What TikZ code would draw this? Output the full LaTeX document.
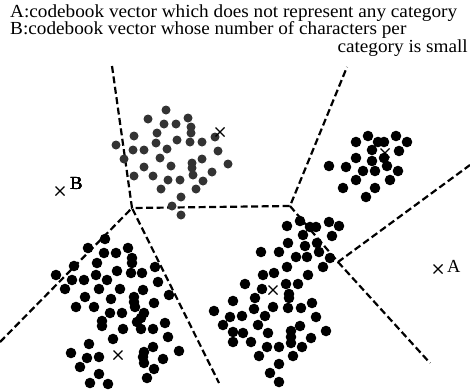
\documentclass[tikz,border=0pt]{standalone}
\usepackage{fontspec}
\setmainfont{Liberation Serif}
\usetikzlibrary{positioning}
\tikzset{
  border/.style={line width=2.2pt,dash pattern=on 7pt off 3.5pt},
  blob/.style={fill=black},
  greyblob/.style={fill=black!80},
  cross/.style={line width=1.2pt},
  caption/.style={inner sep=0pt,font=\fontsize{18.4}{17}\selectfont},
  legend/.style={caption,xscale=1.045}
}
\newcommand{\xmark}[1]{\draw[cross] ($(#1)+(-4.5,-4.5)$) -- ($(#1)+(4.5,4.5)$) ($(#1)+(-4.5,4.5)$) -- ($(#1)+(4.5,-4.5)$);}
\usetikzlibrary{calc}
\begin{document}
\begin{tikzpicture}[x=1pt,y=-1pt]
\useasboundingbox (0,0) rectangle (470,391);
% legend
\node[legend,anchor=base west] (la) at (10,17) {A:codebook vector which does not represent any category};
\node[legend,anchor=base west] (lb) at (10,34.5) {B:codebook vector whose number of characters per};
\node[legend,anchor=base east] (lc) at (468,52) {category is small};
% cell borders
\coordinate (v1) at (132,208);
\coordinate (v2) at (290,206);
\coordinate (v3) at (338,262);
\coordinate (t1) at (112,66);
\coordinate (t2) at (347,67);
\coordinate (e1) at (0,342);
\coordinate (e2) at (219,383);
\coordinate (e3) at (470,165);
\coordinate (e4) at (430,363);
\draw[border] (t1) -- (v1) -- (v2) -- (t2);
\draw[border] (e1) -- (v1) -- (e2);
\draw[border] (v2) -- (v3) -- (e3);
\draw[border] (v3) -- (e4);
% grey cluster
\foreach \x/\y in {166/110,148/119,164/124,176/124,188/118,191/127,191/133,134/136,157/133,
  116/145,133/150,144/150,156/143,177/140,190/142,202/142,215/137,167/149,160/158,124/159,
  218/151,228/164,144/167,171/166,192/163,192/168,202/159,134/176,153/176,168/180,180/180,
  193/175,212/172,203/181,161/189,196/189,181/197,172/206,181/215}
  \fill[greyblob] (\x,\y) circle (4.5);
% upper right cluster
\foreach \x/\y in {356/142,368/136,378/142,384/142,396/136,407/142,372/150,399/151,356/158,
  372/161,384/158,387/166,329/166,346/167,363/171,375/171,398/171,356/180,390/180,343/188,
  375/188,366/197}
  \fill[blob] (\x,\y) circle (5.3);
% lower left cluster
\foreach \x/\y in {105/239,88/248,104/253,116/253,128/248,132/258,132/263,74/266,56/275,97/263,
  117/271,131/273,142/273,155/267,72/280,84/280,96/275,107/280,65/289,99/289,120/289,143/290,
  158/282,85/297,111/299,134/297,134/302,135/307,154/303,169/295,76/307,94/307,110/313,122/313,
  144/313,141/318,102/321,102/326,137/322,141/329,123/329,153/329,165/323,113/339,168/337,
  89/344,71/353,87/358,99/357,144/352,143/357,144/363,153/347,179/351,163/359,80/367,99/374,
  154/369,147/378,90/383,108/384}
  \fill[blob] (\x,\y) circle (5.3);
% lower middle cluster
\foreach \x/\y in {300/221,287/226,310/227,316/227,329/222,339/226,303/235,332/236,288/243,
  305/246,317/243,261/252,279/252,296/257,307/257,319/252,330/258,287/267,323/267,263/275,
  274/273,308/275,245/284,262/289,286/284,298/284,289/294,289/298,233/301,255/298,
  273/307,288/308,301/308,312/303,242/316,254/309,265/316,316/317,258/325,300/326,326/331,
  233/332,243/333,268/333,291/331,291/337,291/343,311/338,302/347,233/342,251/342,267/347,
  279/347,259/356,293/356,279/364,270/373,279/382,214/311,230/317,223/325}
  \fill[blob] (\x,\y) circle (5.3);
% codebook vectors
\coordinate (cb) at (60,191);
\coordinate (ca) at (438,269);
\coordinate (c1) at (220,132);
\coordinate (c2) at (385,153);
\coordinate (c3) at (118,355);
\coordinate (c4) at (273,290);
\foreach \c in {cb,ca,c1,c2,c3,c4}
  \xmark{\c}
\node[caption,anchor=base west] (nb) at (70,189) {B};
\node[caption,anchor=base west] (na) at (447,272) {A};
\end{tikzpicture}
\end{document}
